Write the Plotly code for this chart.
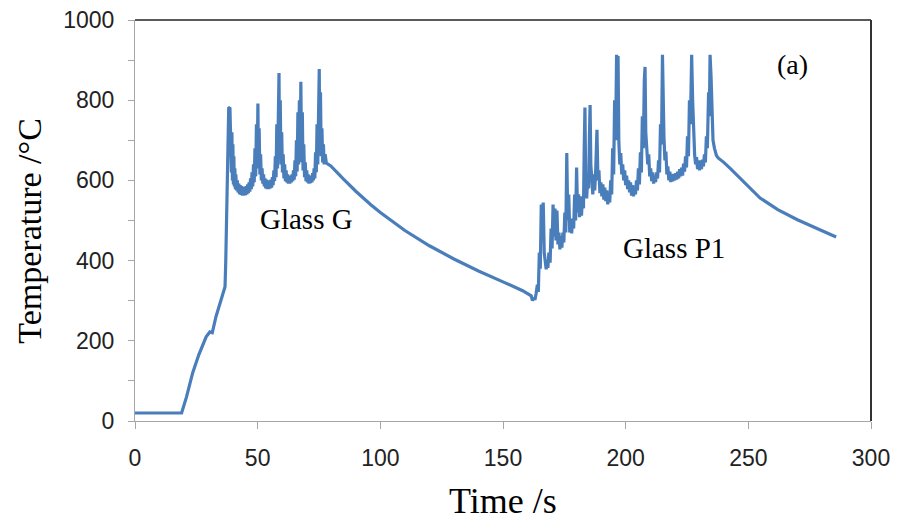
import plotly.graph_objects as go

# (time s, temperature °C), per stage
heating = [(0, 20), (19, 20), (21, 60), (23.5, 120), (26, 165), (29, 210), (30.5, 222), (31.5, 220),
           (33, 260), (35, 300), (36.7, 335)]

glass_g = [(37.0, 400), (37.2, 470), (37.4, 440), (37.6, 560), (37.8, 600), (38.0, 700), (38.2, 780),
           (38.7, 782), (38.9, 690), (39.1, 740), (39.3, 620), (39.5, 720), (39.7, 600), (39.9, 690),
           (40.1, 590), (40.3, 660), (40.5, 585), (40.7, 630), (40.9, 578), (41.1, 615), (41.4, 575),
           (41.7, 600), (42.0, 570), (42.3, 592), (42.6, 566), (42.9, 588), (43.2, 564), (43.5, 586),
           (43.8, 562), (44.1, 584), (44.4, 562), (44.7, 584), (45.0, 563), (45.3, 586), (45.6, 565),
           (45.9, 590), (46.2, 568), (46.5, 595), (46.8, 572), (47.1, 605), (47.4, 578), (47.7, 620),
           (48.0, 585), (48.3, 640), (48.6, 595), (48.9, 680), (49.2, 610), (49.5, 740), (49.8, 630),
           (50.1, 792), (50.3, 640), (50.6, 730), (50.9, 615), (51.2, 665), (51.5, 600), (51.8, 630),
           (52.1, 592), (52.4, 615), (52.7, 585), (53.0, 605), (53.3, 580), (53.6, 602), (53.9, 578),
           (54.2, 600), (54.5, 578), (54.8, 600), (55.1, 580), (55.4, 602), (55.7, 582), (56.0, 608),
           (56.3, 588), (56.6, 625), (56.9, 598), (57.2, 660), (57.5, 608), (57.8, 740), (58.1, 630),
           (58.4, 820), (58.7, 868), (58.9, 660), (59.2, 800), (59.5, 640), (59.8, 720), (60.1, 620),
           (60.4, 665), (60.7, 605), (61.0, 640), (61.3, 598), (61.6, 625), (61.9, 595), (62.2, 615),
           (62.5, 592), (62.8, 612), (63.1, 592), (63.4, 612), (63.7, 595), (64.0, 615), (64.3, 598),
           (64.6, 625), (64.9, 602), (65.2, 650), (65.5, 610), (65.8, 700), (66.1, 622), (66.4, 770),
           (66.7, 640), (67.0, 800), (67.3, 650), (67.6, 846), (67.9, 645), (68.2, 770), (68.5, 625),
           (68.8, 690), (69.1, 608), (69.4, 645), (69.7, 598), (70.0, 625), (70.3, 595), (70.6, 615),
           (70.9, 592), (71.2, 612), (71.5, 593), (71.8, 612), (72.1, 595), (72.4, 618), (72.7, 600),
           (73.0, 630), (73.3, 605), (73.6, 670), (73.9, 620), (74.2, 740), (74.5, 640), (74.8, 830),
           (75.1, 878), (75.3, 680), (75.6, 820), (75.9, 660), (76.2, 730), (76.5, 645), (76.8, 690),
           (77.1, 640), (77.5, 665), (78.0, 643), (79.8, 636)]

cooling_1 = [(85, 603), (90, 573), (96, 540), (100, 520), (110, 475), (120, 437), (130, 404),
             (140, 374), (150, 347), (158, 325), (161.5, 312)]

glass_p1 = [(162, 300), (162.5, 308), (163, 302), (163.5, 318), (164, 340), (164.4, 322), (164.8, 420),
            (165.2, 380), (165.6, 540), (166, 450), (166.4, 545), (166.8, 420), (167.2, 400), (167.6, 378),
            (168, 400), (168.3, 382), (168.7, 420), (169.2, 395), (169.6, 480), (170, 430), (170.4, 540),
            (170.8, 460), (171.2, 530), (171.6, 450), (172, 525), (172.4, 440), (172.8, 470), (173.2, 428),
            (173.6, 462), (174, 432), (174.4, 470), (174.8, 445), (175.2, 520), (175.6, 470), (176, 668),
            (176.4, 500), (176.8, 565), (177.2, 470), (177.6, 505), (178, 468), (178.4, 505), (178.8, 480),
            (179.2, 565), (179.6, 500), (180, 632), (180.4, 520), (180.8, 565), (181.2, 508), (181.6, 560),
            (182, 512), (182.4, 560), (182.8, 530), (183.1, 680), (183.4, 782), (183.7, 600), (184.1, 555),
            (184.5, 600), (184.9, 580), (185.2, 700), (185.5, 788), (185.8, 640), (186.2, 595), (186.6, 565),
            (187, 615), (187.4, 575), (187.8, 630), (188.3, 726), (188.7, 600), (189.1, 625), (189.5, 568),
            (189.9, 595), (190.3, 560), (190.7, 590), (191.1, 552), (191.5, 582), (191.9, 548), (192.3, 575),
            (192.7, 540), (193.1, 568), (193.5, 545), (193.9, 600), (194.3, 565), (194.7, 680), (195.1, 615),
            (195.5, 800), (195.9, 700), (196.3, 913), (196.6, 800), (196.9, 910), (197.2, 700), (197.6, 640),
            (198, 668), (198.4, 615), (198.8, 640), (199.2, 600), (199.6, 625), (200, 588), (200.4, 612),
            (200.8, 578), (201.2, 600), (201.6, 570), (202, 595), (202.4, 562), (202.8, 588), (203.2, 560),
            (203.6, 585), (204, 565), (204.4, 600), (204.8, 575), (205.2, 630), (205.6, 590), (206, 670),
            (206.4, 620), (206.8, 760), (207.2, 680), (207.6, 850), (207.9, 883), (208.2, 720), (208.6, 690),
            (209, 640), (209.4, 665), (209.8, 610), (210.2, 630), (210.6, 598), (211, 620), (211.4, 592),
            (211.8, 612), (212.2, 596), (212.6, 620), (213, 605), (213.4, 650), (213.8, 620), (214.2, 740),
            (214.6, 690), (215, 913), (215.3, 770), (215.6, 710), (216, 650), (216.4, 672), (216.8, 615),
            (217.2, 635), (217.6, 600), (218, 622), (218.4, 596), (218.8, 616), (219.2, 598), (219.6, 616),
            (220, 600), (220.4, 618), (220.8, 602), (221.2, 622), (221.6, 605), (222, 628), (222.4, 610),
            (222.8, 632), (223.2, 612), (223.6, 642), (224, 622), (224.4, 660), (224.8, 632), (225.2, 710),
            (225.6, 660), (226, 800), (226.4, 740), (226.9, 913), (227.3, 800), (227.7, 700), (228.1, 665),
            (228.5, 640), (228.9, 658), (229.3, 628), (229.7, 650), (230.1, 625), (230.5, 650), (230.9, 628),
            (231.3, 652), (231.7, 635), (232.1, 665), (232.5, 645), (232.9, 710), (233.3, 680), (233.8, 820),
            (234.1, 760), (234.4, 913), (234.8, 860), (235.2, 750), (235.6, 700), (236.2, 680), (237, 662),
            (237.7, 656), (240, 645), (242.6, 630)]

cooling_2 = [(248, 596), (254.8, 556), (262, 527), (270, 502), (278, 480), (285.8, 459)]

x_ticks = [0, 50, 100, 150, 200, 250, 300]
y_ticks = [0, 200, 400, 600, 800, 1000]
labels = ["Glass G", "Glass P1", "(a)"]

points = heating + glass_g + cooling_1 + glass_p1 + cooling_2
time_s = [p[0] for p in points]
temperature_c = [p[1] for p in points]

fig = go.Figure()
fig.add_trace(go.Scatter(x=time_s, y=temperature_c, mode="lines",
                         line=dict(color="#4A7EBB", width=3.2), showlegend=False))

serif = "Liberation Serif"
sans = "Liberation Sans"

fig.update_layout(
    width=891, height=517,
    margin=dict(l=127, r=28, t=12, b=104),
    paper_bgcolor="white", plot_bgcolor="white",
    xaxis=dict(range=[0, 300], tickvals=x_ticks, ticktext=[str(v) for v in x_ticks],
               showgrid=False, zeroline=False, showline=True, linecolor="#A6A6A6", linewidth=1,
               ticks="outside", ticklen=7, tickcolor="#A6A6A6", automargin=False,
               ticklabeloverflow="allow",
               tickfont=dict(family=sans, size=23, color="#222"), ticklabelstandoff=9),
    yaxis=dict(range=[0, 1000], tickvals=y_ticks, ticktext=[str(v) for v in y_ticks],
               showgrid=False, zeroline=False, showline=True, linecolor="#A6A6A6", linewidth=1,
               ticks="outside", ticklen=6, tickcolor="#A6A6A6", automargin=False,
               ticklabeloverflow="allow",
               minor=dict(dtick=100, ticks="outside", ticklen=6, tickcolor="#A6A6A6", showgrid=False),
               tickfont=dict(family=sans, size=23, color="#222"), ticklabelstandoff=9),
    shapes=[
        dict(type="line", xref="paper", yref="paper", x0=0, x1=1, y0=1, y1=1,
             line=dict(color="#5A5A5A", width=2)),
        dict(type="line", xref="paper", yref="paper", x0=1, x1=1, y0=0, y1=1,
             line=dict(color="#333333", width=2)),
    ],
    annotations=[
        dict(text="Time /s", xref="paper", yref="paper", x=0.5, y=-0.2,
             xanchor="center", yanchor="middle", showarrow=False,
             font=dict(family=serif, size=36, color="black")),
        dict(text="Temperature /°C", xref="paper", yref="paper", x=-0.143, y=0.474,
             xanchor="center", yanchor="middle", showarrow=False, textangle=-90,
             font=dict(family=serif, size=34, color="black")),
        dict(text=labels[0], x=69.7, y=504, xref="x", yref="y", showarrow=False,
             xanchor="center", yanchor="middle",
             font=dict(family=serif, size=29, color="black")),
        dict(text=labels[1], x=219.7, y=431, xref="x", yref="y", showarrow=False,
             xanchor="center", yanchor="middle",
             font=dict(family=serif, size=29, color="black")),
        dict(text=labels[2], xref="paper", yref="paper", x=0.8927, y=0.888, showarrow=False,
             xanchor="center", yanchor="middle",
             font=dict(family=serif, size=28, color="black")),
    ],
)

fig.write_html("out.html")
